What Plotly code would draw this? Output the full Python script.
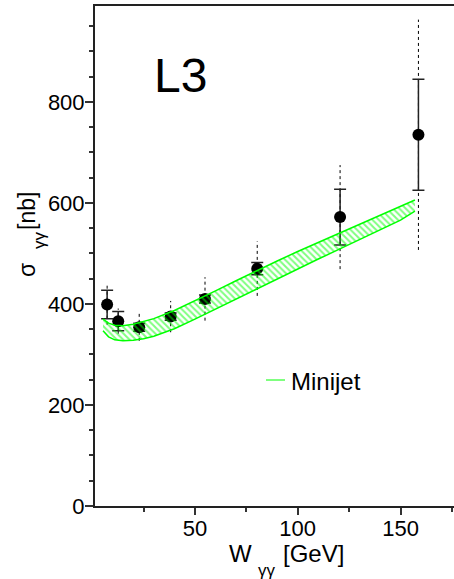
import plotly.graph_objects as go

# L3 total hadronic two-photon cross section
w_gg = [7.3, 12.7, 22.9, 38.2, 54.9, 80.3, 120.6, 158.7]
sigma_gg = [399, 366, 354, 375, 410, 470, 572, 735]
stat_err = [28, 19, 8, 7, 8, 12, 55, 110]
total_err = [40, 25, 27, 31, 43, 54, 103, 228]

# Minijet model band
minijet_w = [5.3, 8, 11, 15, 20, 25, 30, 40, 50, 60, 70, 80, 90, 100, 110, 120, 130, 140, 150, 157]
minijet_hi = [370, 362, 358, 357, 360, 365, 371, 387, 406, 426, 446, 466, 485, 504, 522, 541, 559, 576, 594, 606]
minijet_lo = [347, 335, 329, 327, 328, 331, 336, 351, 370, 390, 410, 430, 450, 470, 489, 508, 527, 547, 566, 584]

x_tick_vals = [50, 100, 150]
y_tick_vals = [0, 200, 400, 600, 800]

FONT = "Liberation Sans, Arial, sans-serif"
GREEN = "#00ff00"

fig = go.Figure()

# total (stat+syst) uncertainties as dashed vertical segments
tx, ty = [], []
for w, s, e in zip(w_gg, sigma_gg, total_err):
    tx += [w, w, None]
    ty += [s - e, s + e, None]
fig.add_trace(go.Scatter(
    x=tx, y=ty, mode="lines",
    line=dict(color="black", width=1, dash="3px,3px"),
    showlegend=False, hoverinfo="skip",
))

# data points with statistical errors
fig.add_trace(go.Scatter(
    x=w_gg, y=sigma_gg, mode="markers",
    marker=dict(color="black", size=12),
    error_y=dict(type="data", array=stat_err, visible=True,
                 color="#222222", thickness=1.5, width=6),
    showlegend=False,
))

# hatched minijet band
fig.add_trace(go.Scatter(
    x=minijet_w + minijet_w[::-1],
    y=minijet_hi + minijet_lo[::-1],
    mode="lines", line=dict(width=0, color=GREEN),
    fill="toself", fillcolor="rgba(0,0,0,0)",
    fillpattern=dict(shape="\\", fgcolor=GREEN, size=4.5, solidity=0.45),
    showlegend=False, hoverinfo="skip",
))
for edge in (minijet_hi, minijet_lo):
    fig.add_trace(go.Scatter(
        x=minijet_w, y=edge, mode="lines",
        line=dict(color=GREEN, width=1.5),
        showlegend=False, hoverinfo="skip",
    ))

L, T, W, H = 95, 6, 359, 500


def px(x):
    return (x - L) / W


def py(y):
    return (T + H - y) / H


def label(text, x, y, size, **kw):
    kw.setdefault("xanchor", "center")
    kw.setdefault("yanchor", "middle")
    return dict(text=text, x=px(x), y=py(y), xref="paper", yref="paper",
                showarrow=False, font=dict(family=FONT, size=size, color="black"), **kw)


annotations = [
    label("L3", 152, 75, 48, xanchor="left"),
    label("Minijet", 289, 381, 24, xanchor="left"),
    # x-axis title: W with a lowered γγ subscript
    label("W", 227, 553, 24, xanchor="left"),
    label("γγ", 256, 570, 17, xanchor="left"),
    label("[GeV]", 281, 553, 24, xanchor="left"),
    # y-axis title: σ with a γγ subscript, rotated
    label("σ", 27, 270, 23, textangle=-90),
    label("γγ", 39, 240, 17, textangle=-90),
    label("[nb]", 27, 211, 23, textangle=-90),
]

shapes = [
    dict(type="line", xref="paper", yref="paper",
         x0=px(266), x1=px(285), y0=py(380), y1=py(380),
         line=dict(color=GREEN, width=1)),
]

fig.update_layout(
    width=454, height=579,
    margin=dict(l=L, r=0, t=T, b=579 - T - H),
    paper_bgcolor="white", plot_bgcolor="white",
    font=dict(family=FONT, size=22, color="black"),
    annotations=annotations, shapes=shapes,
    showlegend=False,
)

fig.update_xaxes(
    range=[1.4, 176], tickvals=x_tick_vals, ticks="outside", ticklen=7,
    tickwidth=1.5, tickcolor="#333333", showgrid=False, zeroline=False,
    showline=True, linecolor="#222222", linewidth=2, mirror=True,
    ticklabelstandoff=-5,
    minor=dict(tickvals=[25, 75, 125, 175], ticks="outside", ticklen=4,
               tickcolor="#333333", tickwidth=1.5, showgrid=False),
    tickfont=dict(family=FONT, size=22, color="black"),
)
fig.update_yaxes(
    range=[0, 990], tickvals=y_tick_vals, ticks="outside", ticklen=8,
    tickwidth=1.5, tickcolor="#333333", showgrid=False, zeroline=False,
    showline=True, linecolor="#222222", linewidth=2,
    ticklabelstandoff=-4,
    minor=dict(dtick=50, tick0=0, ticks="outside", ticklen=4,
               tickcolor="#333333", tickwidth=1.5, showgrid=False),
    tickfont=dict(family=FONT, size=22, color="black"),
)

fig.write_html("out.html")
